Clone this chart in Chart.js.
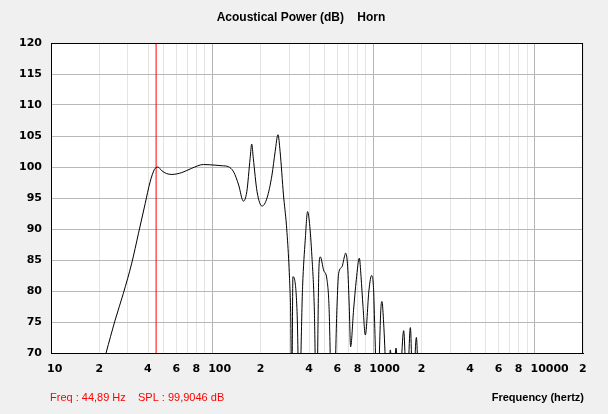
<!DOCTYPE html>
<html><head><meta charset="utf-8">
<script src="https://cdn.jsdelivr.net/npm/chart.js@4/dist/chart.umd.min.js"></script>
<style>html,body{margin:0;padding:0;background:#f0f0f0;overflow:hidden}</style>
</head><body>
<canvas id="c" width="608" height="414"></canvas>
<script>
const freqs = [20,21.96,25.0,28.1,31.7,34.9,38.4,41.2,43.8,44.89,46.0,48.7,52.0,56.2,64.8,74.8,88.3,104,115,126,136,146,156,164,172,176,180,190,204,219,235,246,256,264,277,289,298,302,307,312,317,325,337,347,364,378,391,402,416,430,444,460,469,491,516,531,560,595,609,639,661,673,693,709,723,754,784,819,839,863,892,940,976,1004,1019,1059,1116,1132,1159,1231,1275,1322,1384,1440,1543,1615,1698,1759,1850,1918,2100];
const spl = [66,70.0,75.3,79.6,84.5,89.3,94.1,97.6,99.6,99.9,100.0,99.4,98.95,98.8,99.1,99.8,100.4,100.3,100.2,100.05,99.2,97.1,94.5,96.0,101.4,103.7,101.4,96.0,93.7,95.0,98.7,102.5,105.2,102.5,95.5,90.6,85.3,82.0,76.5,62,82.3,81.8,76,62,80.7,88.2,92.8,90.9,85.5,77.5,60,83.9,85.5,83.4,81.8,77.5,55,77.5,82.8,83.9,85.5,86.1,83.9,77.5,71.0,76.9,81.8,85.3,82.3,77.5,72.9,80.2,82.5,80.2,74.8,62,77.5,78.3,74.8,62,70.5,64,70.8,62,73.6,63,74.1,63,72.5,62,50];
const markerFreq = 44.89;
const markerSPL = 99.9046;
const xTickValues = [10,20,30,40,50,60,70,80,90,100,200,300,400,500,600,700,800,900,1000,2000,3000,4000,5000,6000,7000,8000,9000,10000,20000];
const xTickLabels = ['10','2','','4','','6','','8','','100','2','','4','','6','','8','','1000','2','','4','','6','','8','','10000','2'];
const yTickValues = [70,75,80,85,90,95,100,105,110,115,120];
const yTickLabels = ['70','75','80','85','90','95','100','105','110','115','120'];
const titleText = 'Acoustical Power (dB)    Horn';
const xAxisTitle = 'Frequency (hertz)';
const freqText = 'Freq : 44,89 Hz';
const splText = 'SPL : 99,9046 dB';

const curve = freqs.map((f, i) => ({x: f, y: spl[i]}));
const marker = [{x: markerFreq, y: 70}, {x: markerFreq, y: 120}];
const decades = [10, 100, 1000, 10000];

const decor = {
  id: 'decor',
  beforeDraw(chart) {
    const {ctx, chartArea: a} = chart;
    ctx.save();
    ctx.fillStyle = '#ffffff';
    ctx.fillRect(a.left, a.top, a.right - a.left, a.bottom - a.top);
    ctx.restore();
  },
  afterDraw(chart) {
    const {ctx, chartArea: a} = chart;
    ctx.save();
    ctx.strokeStyle = '#000';
    ctx.lineWidth = 1;
    ctx.strokeRect(Math.round(a.left) + 0.5, Math.round(a.top) + 0.5, Math.round(a.right - a.left) - 1, Math.round(a.bottom - a.top));
    ctx.textBaseline = 'middle';
    ctx.fillStyle = '#000';
    ctx.font = 'bold 12px "Liberation Sans"';
    ctx.textAlign = 'center';
    ctx.fillText(titleText, 301, 18);
    ctx.font = 'bold 11px "Liberation Sans"';
    ctx.textAlign = 'right';
    ctx.fillText(xAxisTitle, 584, 398);
    ctx.font = '11px "Liberation Sans"';
    ctx.textAlign = 'left';
    ctx.fillStyle = '#ff0000';
    ctx.fillText(freqText, 50, 398);
    ctx.fillText(splText, 138, 398);
    ctx.restore();
  }
};

const tickFont = {family: 'DejaVu Sans', weight: 'bold', size: 11};

new Chart(document.getElementById('c'), {
  type: 'line',
  data: {
    datasets: [
      {data: curve, borderColor: '#000', borderWidth: 1, pointRadius: 0, cubicInterpolationMode: 'monotone', order: 1},
      {data: marker, borderColor: '#ff0000', borderWidth: 1, pointRadius: 0, order: 2}
    ]
  },
  options: {
    responsive: false,
    animation: false,
    devicePixelRatio: 1,
    layout: {padding: {left: 0, right: 25, top: 43, bottom: 0}},
    plugins: {legend: {display: false}, title: {display: false}, tooltip: {enabled: false}},
    scales: {
      x: {
        type: 'logarithmic', min: 10, max: 20000,
        afterBuildTicks: s => { s.ticks = xTickValues.map(v => ({value: v})); },
        afterFit: s => { s.height = 61; },
        ticks: {autoSkip: false, maxRotation: 0, minRotation: 0, align: 'start', labelOffset: -4, padding: 10, color: '#000', font: tickFont,
          callback: (v, i) => xTickLabels[i]},
        grid: {drawTicks: false, lineWidth: 1, color: c => (c.tick && decades.includes(c.tick.value)) ? '#b4b4b4' : '#e4e4e4'},
        border: {display: true, color: '#000'}
      },
      y: {
        min: 70, max: 120,
        afterBuildTicks: s => { s.ticks = yTickValues.map(v => ({value: v})); },
        afterFit: s => { s.width = 51; },
        ticks: {padding: 9, color: '#000', font: tickFont, callback: (v, i) => yTickLabels[i]},
        grid: {drawTicks: false, lineWidth: 1, color: '#b8b8b8'},
        border: {display: true, color: '#000'}
      }
    }
  },
  plugins: [decor]
});
</script>
</body></html>
